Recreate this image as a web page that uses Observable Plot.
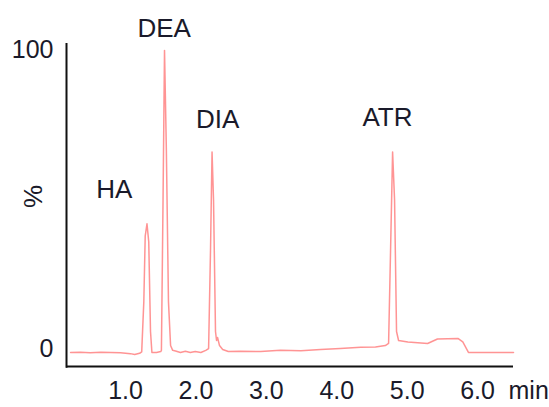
<!DOCTYPE html>
<html>
<head>
<meta charset="utf-8">
<script src="https://cdn.jsdelivr.net/npm/d3@7"></script>
<script src="https://cdn.jsdelivr.net/npm/@observablehq/plot@0.6"></script>
<style>
  html, body { margin: 0; padding: 0; background: #fff; }
  #chart { width: 549px; height: 407px; }
</style>
</head>
<body>
<div id="chart"></div>
<script>
// Retention time (min) and relative intensity (%)
const time = [0.22, 0.36, 0.50, 0.65, 0.79, 0.93, 1.07, 1.13, 1.20, 1.23, 1.26, 1.28, 1.305, 1.33, 1.355, 1.375,
  1.44, 1.50, 1.51, 1.533, 1.554, 1.58, 1.61, 1.64, 1.67, 1.71, 1.78, 1.85, 1.92, 1.99, 2.07, 2.14, 2.18,
  2.207, 2.229, 2.25, 2.278, 2.293, 2.307, 2.335, 2.38, 2.46, 2.63, 2.92, 3.20, 3.49, 3.77, 4.05, 4.34, 4.55,
  4.69, 4.736, 4.764, 4.793, 4.821, 4.849, 4.878, 5.01, 5.29, 5.43, 5.72, 5.79, 5.87, 6.04, 6.27, 6.51];
const intensity = [-1.0, -0.9, -1.1, -0.9, -1.0, -1.1, -1.4, -1.7, -1.3, -0.8, 16, 38, 42, 36, 6, -1.0,
  -1.0, -0.7, -0.3, 50, 100, 67, 16, 1.3, -0.3, -0.5, -1.0, -0.6, -1.0, -0.7, -1.0, -0.3, 0.3,
  33, 66, 50, 6, 3, 4, 1.3, 0, -0.7, -0.6, -0.7, -0.3, -0.4, 0, 0.3, 0.7, 0.8,
  1.3, 2.0, 33, 66, 50, 6, 3, 2.5, 2.0, 3.5, 3.7, 2.5, -1.0, -1.0, -1.0, -1.0];

// Peak annotations (label text and its anchor in data space)
const peakNames = ["HA", "DEA", "DIA", "ATR"];
const peakLabelTime = [0.84, 1.55, 2.31, 4.72];
const peakLabelValue = [53.5, 107.4, 76.9, 77.6];

// Axis ticks
const xTicks = [1, 2, 3, 4, 5, 6];
const yTicks = [0, 100];
const xUnit = "min";
const yUnit = "%";

const xDomain = [0.162, 6.51];
const yDomain = [-5.7, 102.3];

const trace = time.map((t, i) => ({t, v: intensity[i]}));
const labels = peakNames.map((n, i) => ({name: n, t: peakLabelTime[i], v: peakLabelValue[i]}));

const textColor = "#1a1a2a";
const fs = 26;
const fsTick = 25;

const chart = Plot.plot({
  width: 549,
  height: 407,
  marginLeft: 66,
  marginRight: 36,
  marginTop: 43,
  marginBottom: 41,
  style: {fontFamily: "'Liberation Sans', Arial, sans-serif", fontSize: fsTick + "px", color: textColor, background: "#fff"},
  x: {domain: xDomain, ticks: xTicks, tickFormat: d3.format(".1f"), tickSize: 0, tickPadding: 15, label: null},
  y: {domain: yDomain, ticks: yTicks, tickFormat: d3.format("d"), tickSize: 0, tickPadding: 13, label: null},
  marks: [
    Plot.line(trace, {x: "t", y: "v", stroke: "#ff2a2a", strokeOpacity: 0.5, strokeWidth: 1.5}),
    Plot.ruleY([yDomain[0]], {stroke: "#111", strokeWidth: 2}),
    Plot.ruleX([xDomain[0]], {stroke: "#111", strokeWidth: 2, y1: yDomain[0] - 0.6, y2: yDomain[1]}),
    Plot.text(labels, {x: "t", y: "v", text: "name", fill: textColor, fontSize: fs}),
    Plot.text([xUnit], {frameAnchor: "bottom-right", text: d => d, textAnchor: "start", lineAnchor: "top", dx: -5, dy: 15, fill: textColor, fontSize: fsTick}),
    Plot.text([yUnit], {frameAnchor: "left", text: d => d, rotate: -90, dx: -33, dy: 3, fill: textColor, fontSize: fs})
  ]
});
document.getElementById("chart").appendChild(chart);
</script>
</body>
</html>
